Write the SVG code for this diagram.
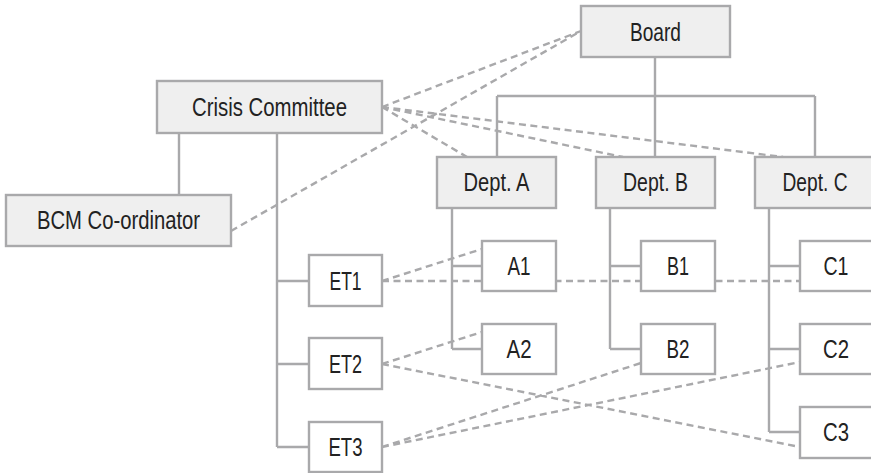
<svg xmlns="http://www.w3.org/2000/svg" width="871" height="473" viewBox="0 0 871 473">
<style>
.box{fill:#efefef;stroke:#a9a9ab;stroke-width:2.4}
.sub{fill:#ffffff;stroke:#a9a9ab;stroke-width:2.4}
.t{font-family:"Liberation Sans",Arial,sans-serif;font-size:25px;fill:#222;text-anchor:middle}
.solid{fill:none;stroke:#a9a9ab;stroke-width:2.4}
.dash{fill:none;stroke:#a9a9ab;stroke-width:2.4;stroke-dasharray:7 4.5}
</style>
<rect width="871" height="473" fill="#ffffff"/>
<g id="connectors">
<path class="solid" d="M179,133V195 M277,133V447 M277,281H309 M277,364H309 M277,447H309"/>
<path class="solid" d="M655,57V96 M497,96H815 M497,96V157 M655,96V157 M815,96V157"/>
<path class="solid" d="M452,208V349 M452,266H482 M452,349H482"/>
<path class="solid" d="M610,208V349 M610,266H641 M610,349H641"/>
<path class="solid" d="M769,208V432 M769,266H800 M769,349H800 M769,432H800"/>
<path class="dash" d="M231,231L581,31 M382,107L581,31 M382,107L467,157 M382,107L623,157 M382,107L783,157"/>
<path class="dash" d="M382,281L482,249 M382,281H800 M382,364L482,332 M382,364L800,447 M382,447L641,363 M382,447L800,362"/>
</g>
<g id="board"><rect class="box" x="581" y="6" width="149" height="51"/><text class="t" x="655.5" y="41" textLength="51" lengthAdjust="spacingAndGlyphs">Board</text></g>
<g id="crisis"><rect class="box" x="157" y="81" width="225" height="52"/><text class="t" x="269.5" y="116" textLength="155" lengthAdjust="spacingAndGlyphs">Crisis Committee</text></g>
<g id="bcm"><rect class="box" x="6" y="195" width="225" height="51"/><text class="t" x="118.5" y="229" textLength="163" lengthAdjust="spacingAndGlyphs">BCM Co-ordinator</text></g>
<g id="deptA"><rect class="box" x="437" y="157" width="119" height="51"/><text class="t" x="496.5" y="191" textLength="66" lengthAdjust="spacingAndGlyphs">Dept. A</text></g>
<g id="deptB"><rect class="box" x="596" y="157" width="119" height="51"/><text class="t" x="655.5" y="191" textLength="65" lengthAdjust="spacingAndGlyphs">Dept. B</text></g>
<g id="deptC"><rect class="box" x="755" y="157" width="120" height="51"/><text class="t" x="815" y="191" textLength="65" lengthAdjust="spacingAndGlyphs">Dept. C</text></g>
<g id="et1"><rect class="sub" x="309" y="255" width="73" height="51"/><text class="t" x="345.5" y="290" textLength="32" lengthAdjust="spacingAndGlyphs">ET1</text></g>
<g id="et2"><rect class="sub" x="309" y="338" width="73" height="51"/><text class="t" x="345.5" y="373" textLength="33" lengthAdjust="spacingAndGlyphs">ET2</text></g>
<g id="et3"><rect class="sub" x="309" y="422" width="73" height="50"/><text class="t" x="345.5" y="456" textLength="34" lengthAdjust="spacingAndGlyphs">ET3</text></g>
<g id="a1"><rect class="sub" x="482" y="241" width="74" height="50"/><text class="t" x="519" y="275" textLength="23" lengthAdjust="spacingAndGlyphs">A1</text></g>
<g id="a2"><rect class="sub" x="482" y="324" width="74" height="50"/><text class="t" x="519" y="358" textLength="25" lengthAdjust="spacingAndGlyphs">A2</text></g>
<g id="b1"><rect class="sub" x="641" y="241" width="74" height="50"/><text class="t" x="678" y="275" textLength="22" lengthAdjust="spacingAndGlyphs">B1</text></g>
<g id="b2"><rect class="sub" x="641" y="324" width="74" height="50"/><text class="t" x="678" y="358" textLength="23" lengthAdjust="spacingAndGlyphs">B2</text></g>
<g id="c1"><rect class="sub" x="800" y="241" width="74" height="50"/><text class="t" x="836" y="275" textLength="25" lengthAdjust="spacingAndGlyphs">C1</text></g>
<g id="c2"><rect class="sub" x="800" y="324" width="74" height="50"/><text class="t" x="836" y="358" textLength="26" lengthAdjust="spacingAndGlyphs">C2</text></g>
<g id="c3"><rect class="sub" x="800" y="407" width="74" height="51"/><text class="t" x="836" y="441" textLength="26" lengthAdjust="spacingAndGlyphs">C3</text></g>
</svg>
